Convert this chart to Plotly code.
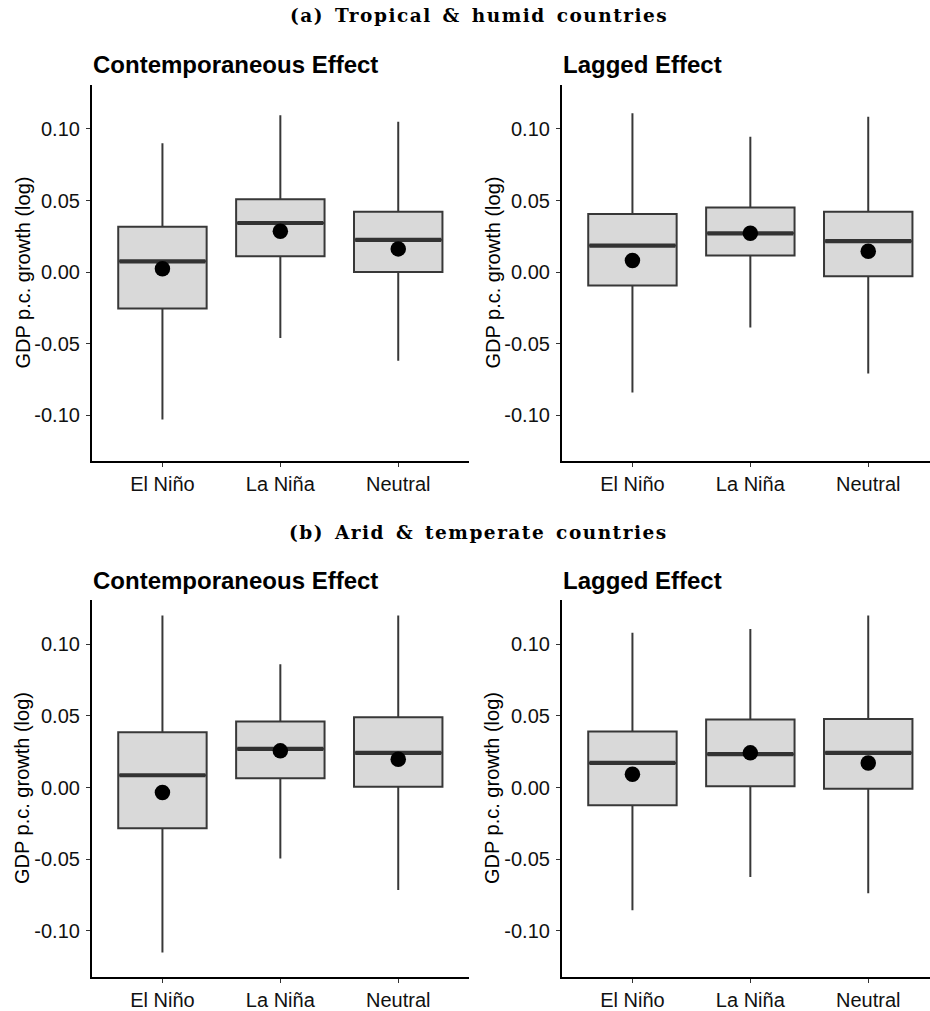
import plotly.graph_objects as go

# ---- data: box statistics of GDP per-capita growth (log) by ENSO phase ----
categories = ["El Niño", "La Niña", "Neutral"]

# (a) Tropical & humid countries, contemporaneous effect
trop_contemp_lower = [-0.103, -0.046, -0.062]
trop_contemp_q1 = [-0.0255, 0.011, 0.000]
trop_contemp_median = [0.0075, 0.0343, 0.0225]
trop_contemp_q3 = [0.0317, 0.0508, 0.0422]
trop_contemp_upper = [0.090, 0.1095, 0.105]
trop_contemp_mean = [0.0023, 0.0285, 0.0162]

# (a) Tropical & humid countries, lagged effect
trop_lagged_lower = [-0.0842, -0.0388, -0.0708]
trop_lagged_q1 = [-0.0093, 0.0116, -0.003]
trop_lagged_median = [0.0185, 0.0271, 0.0216]
trop_lagged_q3 = [0.0406, 0.0452, 0.0422]
trop_lagged_upper = [0.111, 0.0946, 0.1086]
trop_lagged_mean = [0.0081, 0.0271, 0.0146]

# (b) Arid & temperate countries, contemporaneous effect
arid_contemp_lower = [-0.115, -0.0495, -0.0714]
arid_contemp_q1 = [-0.0284, 0.0065, 0.0005]
arid_contemp_median = [0.0086, 0.027, 0.0242]
arid_contemp_q3 = [0.0386, 0.046, 0.0491]
arid_contemp_upper = [0.12, 0.086, 0.12]
arid_contemp_mean = [-0.0035, 0.0256, 0.0198]

# (b) Arid & temperate countries, lagged effect
arid_lagged_lower = [-0.0856, -0.0623, -0.0737]
arid_lagged_q1 = [-0.0123, 0.0009, -0.0009]
arid_lagged_median = [0.0172, 0.0233, 0.0242]
arid_lagged_q3 = [0.0391, 0.0474, 0.0479]
arid_lagged_upper = [0.1079, 0.1105, 0.12]
arid_lagged_mean = [0.0093, 0.0242, 0.0172]

y_tickvals = [-0.10, -0.05, 0.00, 0.05, 0.10]
y_ticktext = ["-0.10", "-0.05", "0.00", "0.05", "0.10"]

panel_titles = ["Contemporaneous Effect", "Lagged Effect"]
group_titles = ["(a) Tropical & humid countries", "(b) Arid & temperate countries"]
y_title = "GDP p.c. growth (log)"

panels = [
    dict(lower=trop_contemp_lower, q1=trop_contemp_q1, median=trop_contemp_median,
         q3=trop_contemp_q3, upper=trop_contemp_upper, mean=trop_contemp_mean),
    dict(lower=trop_lagged_lower, q1=trop_lagged_q1, median=trop_lagged_median,
         q3=trop_lagged_q3, upper=trop_lagged_upper, mean=trop_lagged_mean),
    dict(lower=arid_contemp_lower, q1=arid_contemp_q1, median=arid_contemp_median,
         q3=arid_contemp_q3, upper=arid_contemp_upper, mean=arid_contemp_mean),
    dict(lower=arid_lagged_lower, q1=arid_lagged_q1, median=arid_lagged_median,
         q3=arid_lagged_q3, upper=arid_lagged_upper, mean=arid_lagged_mean),
]

# ---- layout geometry (pixels) ----
W, H = 930, 1011
SANS = "Liberation Sans, Arial, sans-serif"
SERIF = "DejaVu Serif, serif"
BOX_W = 0.75
PX_PER_UNIT = 117.9

def px_x(p):
    return p / W

def px_y(p):
    return 1 - p / H

col_left = [91.7, 561.7]
row_top = [85.0, 602.7]
row_bottom = [463.3, 981.7]
title_row_y = [16.0, 535.0]
subtitle_row_y = [65.0, 583.0]

fig = go.Figure()

for k, d in enumerate(panels):
    r, c = divmod(k, 2)
    suffix = "" if k == 0 else str(k + 1)
    xa, ya = "x" + suffix, "y" + suffix
    xs = [i + 1 for i in range(len(categories))]
    for i, x in enumerate(xs):
        fig.add_trace(go.Box(
            x=[x], q1=[d["q1"][i]], median=[d["median"][i]], q3=[d["q3"][i]],
            lowerfence=[d["lower"][i]], upperfence=[d["upper"][i]],
            width=BOX_W, whiskerwidth=0, fillcolor="#D9D9D9",
            line=dict(color="#383838", width=2), boxpoints=False,
            showlegend=False, hoverinfo="skip", xaxis=xa, yaxis=ya,
        ))
        # thicker median bar
        fig.add_trace(go.Scatter(
            x=[x - BOX_W / 2 + 0.01, x + BOX_W / 2 - 0.01],
            y=[d["median"][i], d["median"][i]], mode="lines",
            line=dict(color="#333333", width=4.2), showlegend=False,
            hoverinfo="skip", xaxis=xa, yaxis=ya,
        ))
    # mean points
    fig.add_trace(go.Scatter(
        x=xs, y=d["mean"], mode="markers",
        marker=dict(color="black", size=15.5), showlegend=False,
        hoverinfo="skip", xaxis=xa, yaxis=ya,
    ))

    x0 = col_left[c]
    x1 = min(W, x0 + 3.2 * PX_PER_UNIT)
    xmax = 0.4 + (x1 - x0) / PX_PER_UNIT
    axis_common = dict(showline=True, linecolor="black", linewidth=1.6,
                       showgrid=False, zeroline=False, ticks="outside",
                       ticklen=4, tickwidth=1, tickcolor="#333333",
                       tickfont=dict(family=SANS, size=20, color="#111111"))
    fig.update_layout(**{
        ("xaxis" + suffix): dict(
            domain=[px_x(x0), px_x(x1)], range=[0.4, xmax], anchor=ya,
            tickvals=xs, ticktext=categories, ticklabelstandoff=0, **axis_common),
        ("yaxis" + suffix): dict(
            domain=[px_y(row_bottom[r]), px_y(row_top[r])], range=[-0.132, 0.131],
            anchor=xa, tickvals=y_tickvals, ticktext=y_ticktext,
            ticklabelstandoff=2, **axis_common),
    })

    fig.add_annotation(
        text="<b>" + panel_titles[c] + "</b>", xref="paper", yref="paper",
        x=px_x(x0 - 1), y=px_y(subtitle_row_y[r]), xanchor="left", yanchor="middle",
        showarrow=False, font=dict(family=SANS, size=24, color="black"))
    fig.add_annotation(
        text=y_title, xref="paper", yref="paper", textangle=-90,
        x=px_x(x0 - 69), y=px_y((row_top[r] + row_bottom[r]) / 2),
        xanchor="center", yanchor="middle", showarrow=False,
        font=dict(family=SANS, size=20, color="black"))

for r in range(2):
    fig.add_annotation(
        text='<span style="letter-spacing:1.5px;word-spacing:3px"><b>'
             + group_titles[r].replace("&", "&amp;") + "</b></span>",
        xref="paper", yref="paper", x=px_x(479), y=px_y(title_row_y[r]),
        xanchor="center", yanchor="middle", showarrow=False,
        font=dict(family=SERIF, size=18.5, color="black"))

fig.update_layout(
    width=W, height=H, margin=dict(l=0, r=0, t=0, b=0),
    paper_bgcolor="white", plot_bgcolor="white", showlegend=False,
    boxmode="overlay",
)

fig.write_html("out.html")
